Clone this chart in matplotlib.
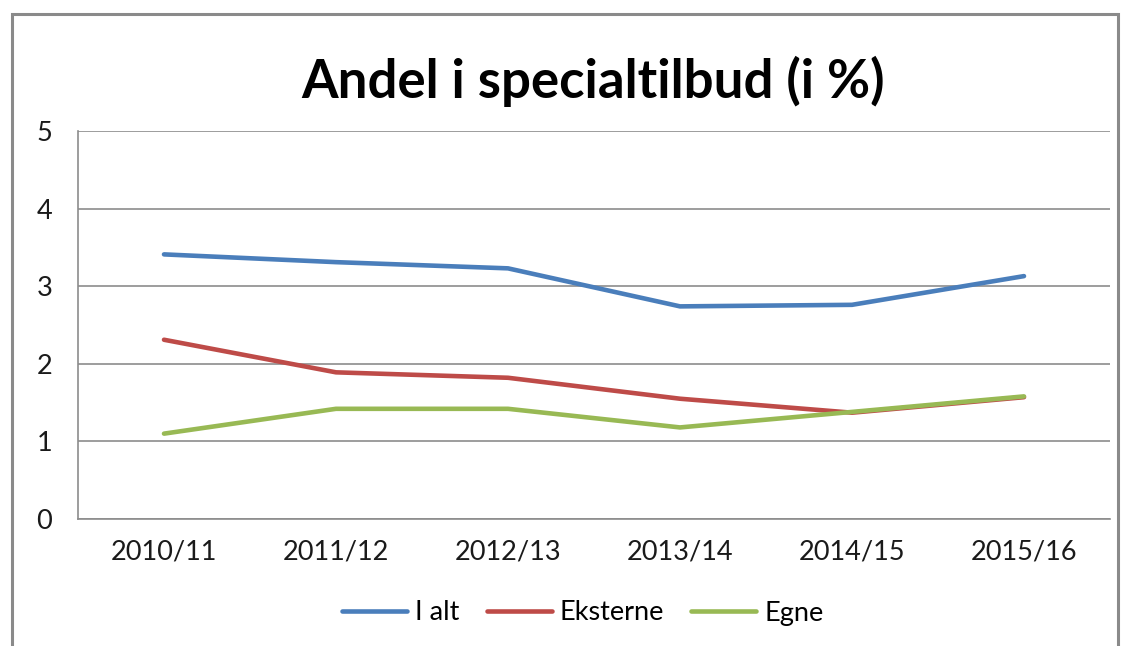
import numpy as np
import matplotlib.pyplot as plt
from matplotlib.patches import Rectangle

aar = ['2010/11', '2011/12', '2012/13', '2013/14', '2014/15', '2015/16']
i_alt = [3.41, 3.31, 3.23, 2.74, 2.76, 3.13]
eksterne = [2.31, 1.89, 1.82, 1.55, 1.37, 1.57]
egne = [1.10, 1.42, 1.42, 1.18, 1.38, 1.58]

plt.rcParams['font.family'] = ['Lato', 'DejaVu Sans']

fig = plt.figure(figsize=(11.31, 6.46), dpi=100)
ax = fig.add_axes([78/1131, 1-519/646, (1110-78)/1131, (519-131)/646])

x = np.arange(len(aar))
ax.plot(x, i_alt, color='#4A7EBB', linewidth=3.3, solid_capstyle='round', label='I alt')
ax.plot(x, eksterne, color='#BE4B48', linewidth=3.3, solid_capstyle='round', label='Eksterne')
ax.plot(x, egne, color='#98B954', linewidth=3.3, solid_capstyle='round', label='Egne')

ax.set_xlim(-0.5, len(aar)-0.5)
ax.set_ylim(0, 5)
ax.set_yticks([0, 1, 2, 3, 4, 5])
ax.set_xticks(x)
ax.set_xticklabels(aar)
ax.tick_params(axis='both', length=0, labelsize=19.5, colors='#1a1a1a')
ax.tick_params(axis='y', pad=30)
ax.tick_params(axis='x', pad=15)
for lab in ax.get_yticklabels():
    lab.set_horizontalalignment('left')
ax.grid(axis='y', color='#8c8c8c', linewidth=1.2)
ax.set_axisbelow(True)
for s in ['top', 'right']:
    ax.spines[s].set_visible(False)
for s in ['left', 'bottom']:
    ax.spines[s].set_color('#8c8c8c')
    ax.spines[s].set_linewidth(1.2)

fig.text(593/1131, 1-81/646, 'Andel i specialtilbud (i %)', ha='center', va='center',
         fontsize=38, fontweight='bold')

fig.legend(loc='center', bbox_to_anchor=(583/1131, 1-613/646), ncol=3, frameon=False,
           fontsize=19.5, handlelength=2.4, handletextpad=0.3, columnspacing=1.0)

fig.patches.append(Rectangle((12/1131, -0.1), (1118-12)/1131, 1.1-14/646,
                             transform=fig.transFigure, fill=False,
                             edgecolor='#8a8a8a', linewidth=2.2))

fig.savefig('out.png', dpi=100)
